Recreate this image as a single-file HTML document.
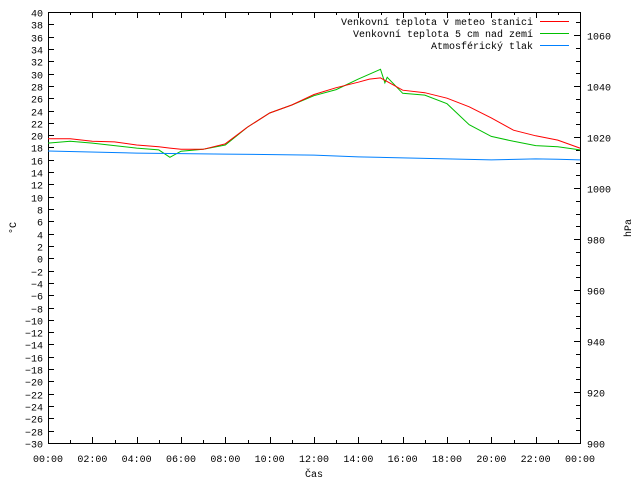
<!DOCTYPE html>
<html><head><meta charset="utf-8"><style>
body{margin:0;background:#fff}
svg text{font-family:"Liberation Mono","DejaVu Sans Mono",monospace;font-size:10px;fill:#000}
</style></head><body>
<svg id="chart" width="640" height="480" xmlns="http://www.w3.org/2000/svg">
<g id="axes"></g><g id="series"></g><g id="legend"></g>
</svg>
<script>
const hours=[0,1,2,3,4,5,5.5,6,7,8,9,10,11,12,13,14,14.5,15,15.2,15.3,16,17,18,19,20,21,22,23,24];
const redTemp=[19.4,19.4,19.0,18.9,18.4,18.1,17.9,17.7,17.7,18.6,21.3,23.6,24.9,26.6,27.7,28.6,29.1,29.3,28.9,28.7,27.3,26.9,26.0,24.6,22.8,20.8,19.9,19.2,17.9];
const greenTemp=[18.7,19.0,18.7,18.3,17.9,17.6,16.4,17.4,17.7,18.4,21.3,23.6,24.9,26.4,27.4,29.1,29.9,30.7,28.5,29.4,26.8,26.5,25.1,21.7,19.8,19.0,18.3,18.1,17.6];
const pressHours=[0,4,8,12,14,16,18,20,22,23,24];
const pressure=[1014.5,1013.7,1013.3,1012.9,1012.2,1011.8,1011.4,1011.0,1011.4,1011.3,1011.0];
const leftTicks=[];for(let v=-30;v<=40;v+=2)leftTicks.push(v);
const rightTicks=[900,920,940,960,980,1000,1020,1040,1060];
const xLabels=["00:00","02:00","04:00","06:00","08:00","10:00","12:00","14:00","16:00","18:00","20:00","22:00","00:00"];
const L=48,R=580,T=12,B=443;
const xs=h=>L+(R-L)*h/24;
const yl=v=>B-(v+30)/70*(B-T);
const yr=p=>B-(p-900)*51/20;
const NS="http://www.w3.org/2000/svg";
function mk(t,a,p){const e=document.createElementNS(NS,t);for(const k in a)e.setAttribute(k,a[k]);p.appendChild(e);return e;}
const ax=document.getElementById('axes');
const frame=mk('rect',{x:L+.5,y:T+.5,width:R-L,height:B-T,fill:'none',stroke:'#000'},ax);


leftTicks.forEach(v=>{const y=Math.round(yl(v))+.5;
 mk('line',{x1:L,y1:y,x2:L+6,y2:y,stroke:'#000'},ax);
 const t=mk('text',{x:43,y:y+4,'text-anchor':'end'},ax);t.textContent=String(v).replace('-','\u2212');
 
 });
for(let p=900;p<=1065;p+=5){const y=Math.round(yr(p))+.5;const len=p%20===0?6:4;
 mk('line',{x1:R-len,y1:y,x2:R+.5,y2:y,stroke:'#000'},ax);}
rightTicks.forEach(p=>{const y=Math.round(yr(p))+.5;
 const t=mk('text',{x:587,y:y+4},ax);t.textContent=p;
 
 });
for(let h=0;h<=24;h++){const x=Math.round(xs(h))+.5;const len=h%2===0?6:3;
 mk('line',{x1:x,y1:B,x2:x,y2:B-len,stroke:'#000'},ax);
 mk('line',{x1:x,y1:T,x2:x,y2:T+len,stroke:'#000'},ax);}
xLabels.forEach((s,i)=>{const t=mk('text',{x:xs(i*2),y:462,'text-anchor':'middle'},ax);t.textContent=s;
 
 });
let t=mk('text',{x:314,y:477,'text-anchor':'middle'},ax);t.textContent='Čas';


t=mk('text',{x:0,y:0,'text-anchor':'middle',transform:'translate(16,228) rotate(-90)'},ax);t.textContent='°C';


t=mk('text',{x:0,y:0,'text-anchor':'middle',transform:'translate(631,228) rotate(-90)'},ax);t.textContent='hPa';


const se=document.getElementById('series');
function line(xsArr,ys,fy,col,name){const pts=xsArr.map((h,i)=>xs(h).toFixed(1)+','+fy(ys[i]).toFixed(1)).join(' ');
 const p=mk('polyline',{points:pts,fill:'none',stroke:col,'stroke-width':1},se);
 
 }
line(hours,greenTemp,yl,'#00c000','series-ground-temp');
line(hours,redTemp,yl,'#ff0000','series-station-temp');
line(pressHours,pressure,yr,'#0080ff','series-pressure');
const lg=document.getElementById('legend');
[["Venkovní teplota v meteo stanici","#ff0000"],["Venkovní teplota 5 cm nad zemí","#00c000"],["Atmosférický tlak","#0080ff"]].forEach((e,i)=>{
 const y=21+i*12;
 const tx=mk('text',{x:533,y:y+4,'text-anchor':'end'},lg);tx.textContent=e[0];
 
 
 mk('line',{x1:540,y1:y+.5,x2:569,y2:y+.5,stroke:e[1]},lg);});
</script>
</body></html>
